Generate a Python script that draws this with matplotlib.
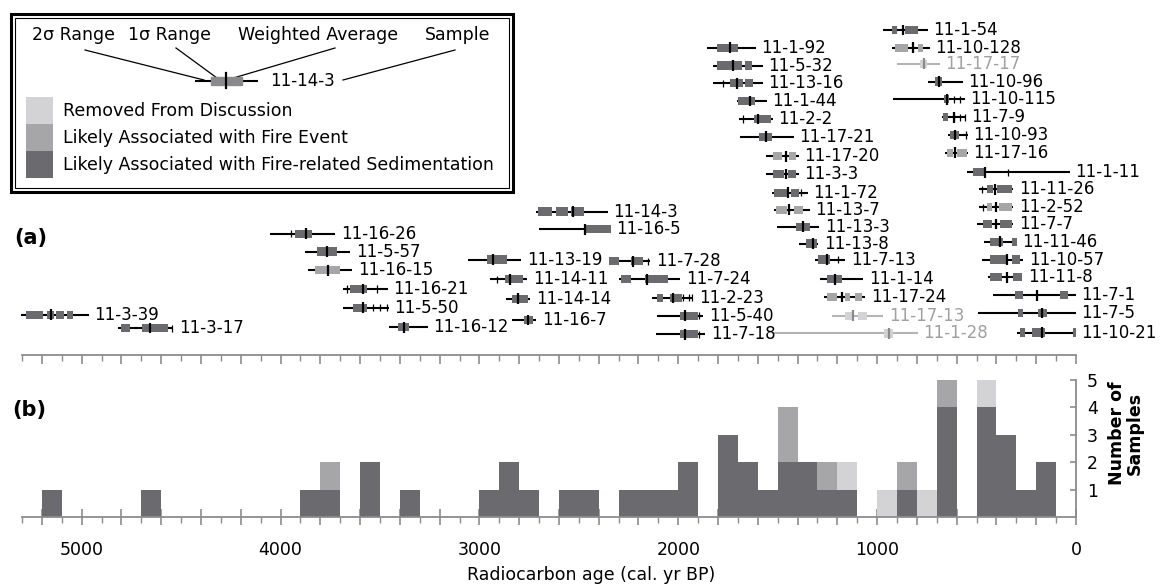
import numpy as np
import matplotlib.pyplot as plt
import matplotlib.patches as mpatches
from matplotlib.ticker import MultipleLocator, FuncFormatter

plt.rcParams['font.family'] = 'DejaVu Sans'

# --- panel (a): calibrated ages of each sample (cal. yr BP) ---
sample_names = [
    '11-3-39', '11-3-17', '11-16-26', '11-5-57', '11-16-15', '11-16-21', '11-5-50', '11-16-12',
    '11-14-3', '11-16-5', '11-13-19', '11-14-11', '11-14-14', '11-16-7',
    '11-7-28', '11-7-24', '11-2-23', '11-5-40', '11-7-18',
    '11-1-92', '11-5-32', '11-13-16', '11-1-44', '11-2-2', '11-17-21', '11-17-20', '11-3-3',
    '11-1-72', '11-13-7', '11-13-3', '11-13-8', '11-7-13', '11-1-14', '11-17-24', '11-17-13', '11-1-28',
    '11-1-54', '11-10-128', '11-17-17', '11-10-96', '11-10-115', '11-7-9', '11-10-93', '11-17-16',
    '11-1-11', '11-11-26', '11-2-52', '11-7-7', '11-11-46', '11-10-57', '11-11-8', '11-7-1', '11-7-5', '11-10-21',
]
sample_rows = [
    16.0, 16.75, 11.45, 12.45, 13.5, 14.55, 15.6, 16.7,
    10.2, 11.2, 12.9, 14.0, 15.1, 16.3,
    13.0, 14.0, 15.05, 16.05, 17.1,
    1.0, 2.0, 3.0, 4.0, 5.0, 6.0, 7.1, 8.1, 9.15, 10.1, 11.05, 12.0, 12.9, 14.0, 15.0, 16.05, 17.05,
    0.0, 1.0, 1.9, 2.9, 3.9, 4.9, 5.9, 6.9,
    8.0, 8.95, 9.95, 10.9, 11.9, 12.9, 13.9, 14.9, 15.9, 17.0,
]
sigma2_old = [
    5305, 4815, 4055, 3875, 3860, 3685, 3685, 3455,
    2715, 2700, 3055, 2945, 2865, 2835,
    2350, 2300, 2130, 2105, 2110,
    1855, 1825, 1825, 1705, 1695, 1690, 1560, 1560, 1530, 1520, 1505, 1395, 1310, 1285, 1265, 1225, 1525,
    970, 925, 900, 745, 920, 675, 645, 660,
    550, 490, 490, 500, 465, 475, 440, 415, 495, 295,
]
sigma2_young = [
    4965, 4540, 3725, 3650, 3640, 3460, 3455, 3260,
    2355, 2340, 2790, 2760, 2745, 2715,
    2140, 1990, 1925, 1875, 1865,
    1610, 1575, 1575, 1555, 1525, 1420, 1395, 1395, 1350, 1340, 1290, 1295, 1160, 1070, 1060, 970, 795,
    745, 735, 685, 570, 560, 555, 545, 545,
    30, 315, 315, 315, 300, 265, 270, 0, 0, 0,
]
sigma1_ranges = [
    [(5280, 5195), (5175, 5140), (5130, 5090), (5075, 5045)], [(4800, 4755), (4695, 4565)],
    [(3925, 3840)], [(3815, 3715)], [(3825, 3700)], [(3650, 3565)], [(3635, 3565)], [(3410, 3355)],
    [(2705, 2635), (2615, 2555), (2540, 2475)], [(2475, 2340)], [(2960, 2860)], [(2870, 2780)],
    [(2835, 2755)], [(2775, 2730)],
    [(2350, 2300), (2240, 2175)], [(2290, 2240), (2165, 2050)], [(2105, 2075), (2040, 1980)],
    [(1990, 1900)], [(1990, 1900)],
    [(1805, 1700)], [(1805, 1680), (1665, 1630)], [(1740, 1675), (1665, 1625)], [(1700, 1615)],
    [(1620, 1535)], [(1595, 1530)], [(1525, 1480), (1445, 1410)], [(1525, 1470), (1450, 1410)],
    [(1520, 1450), (1435, 1395)], [(1510, 1455), (1420, 1375)], [(1410, 1340)], [(1360, 1300)],
    [(1295, 1235)], [(1250, 1175)], [(1250, 1200), (1160, 1135), (1110, 1075)],
    [(1160, 1120), (1095, 1050)], [(965, 920)],
    [(925, 900), (860, 795)], [(910, 845), (795, 770)], [(785, 750)], [(710, 675)], [(665, 640)],
    [(670, 645)], [(635, 590)], [(650, 620), (600, 550)],
    [(520, 455)], [(450, 415), (395, 320)], [(450, 420), (385, 320)], [(470, 420), (380, 320)],
    [(430, 365), (320, 295)], [(430, 345), (320, 280)], [(430, 370), (315, 270)],
    [(305, 265), (80, 40)], [(290, 265), (190, 145)], [(280, 255), (220, 155), (15, 0)],
]
weighted_avg = [
    5155, 4655, 3870, 3765, 3760, 3585, 3585, 3380,
    2530, 2470, 2930, 2845, 2805, 2755,
    2230, 2155, 2025, 1965, 1965,
    1740, 1725, 1705, 1640, 1600, 1560, 1460, 1460, 1450, 1445, 1375, 1320, 1250, 1210, 1175, 1120, 940,
    870, 820, 765, 690, 650, 615, 610, 610,
    460, 405, 400, 400, 380, 345, 345, 195, 170, 170,
]
# short marks on the 2-sigma line (range boundaries)
sigma2_marks = [
    [5170], [4545], [3945], [3805], [], [3665, 3515], [3535, 3500, 3465], [],
    [], [], [], [2910], [], [],
    [2150], [], [1975, 1945, 1930], [1895], [1895],
    [], [1775], [1775], [], [1675], [], [], [],
    [1410, 1385], [], [], [], [1195], [], [], [], [],
    [], [855], [], [], [615, 585], [615, 585, 560], [555], [],
    [340], [475], [470], [], [], [], [], [], [], [],
]
# S = fire-related sedimentation, F = fire event, R = removed from discussion
sample_class = [
    'S', 'S', 'S', 'S', 'F', 'S', 'S', 'S',
    'S', 'S', 'S', 'S', 'S', 'S',
    'S', 'S', 'S', 'S', 'S',
    'S', 'S', 'S', 'S', 'S', 'S', 'F', 'S', 'S', 'F', 'S', 'S', 'S', 'S', 'F', 'R', 'R',
    'S', 'F', 'R', 'S', 'S', 'S', 'S', 'F',
    'S', 'S', 'F', 'S', 'S', 'S', 'S', 'S', 'S', 'S',
]

# --- panel (b): number of samples per 100-yr bin (lower edge, cal. yr BP) ---
bin_lower = [5100, 4600, 3800, 3700, 3500, 3300, 2900, 2800, 2700, 2500, 2400, 2200, 2100, 2000, 1900,
             1700, 1600, 1500, 1400, 1300, 1200, 1100, 900, 800, 700, 600, 400, 300, 200, 100]
count_sed = [1, 1, 1, 1, 2, 1, 1, 2, 1, 1, 1, 1, 1, 1, 2,
             3, 2, 1, 2, 2, 1, 1, 0, 1, 0, 4, 4, 3, 1, 2]
count_fire = [0, 0, 0, 1, 0, 0, 0, 0, 0, 0, 0, 0, 0, 0, 0,
              0, 0, 0, 2, 0, 1, 0, 0, 1, 0, 1, 0, 0, 0, 0]
count_removed = [0, 0, 0, 0, 0, 0, 0, 0, 0, 0, 0, 0, 0, 0, 0,
                 0, 0, 0, 0, 0, 0, 1, 1, 0, 1, 0, 1, 0, 0, 0]

DARK, MID, LIGHT = '#6b6b6f', '#a6a6a9', '#d3d3d5'
AXIS_GRAY = '#8c8c8c'
box_color = {'S': DARK, 'F': MID, 'R': LIGHT}
line_color = {'S': 'black', 'F': 'black', 'R': '#b4b4b4'}
text_color = {'S': 'black', 'F': 'black', 'R': '#a0a0a0'}

W, H = 1160, 584
fig = plt.figure(figsize=(W / 100, H / 100), dpi=100)


def px_axes(x0, y0, x1, y1):
    return fig.add_axes([x0 / W, 1 - y1 / H, (x1 - x0) / W, (y1 - y0) / H])


# overlay for legend box and panel letters (pixel coordinates)
ov = fig.add_axes([0, 0, 1, 1])
ov.set_xlim(0, W)
ov.set_ylim(H, 0)
ov.axis('off')

# ---------------- panel (a) ----------------
ax = px_axes(22, 15, 1076, 355)
ax.patch.set_visible(False)
ax.set_xlim(5300, 0)
ax.set_ylim(18.26, -0.84)
for s in ['top', 'left', 'right']:
    ax.spines[s].set_visible(False)
ax.spines['bottom'].set_color(AXIS_GRAY)
ax.spines['bottom'].set_linewidth(1.3)
ax.xaxis.set_major_locator(MultipleLocator(200))
ax.xaxis.set_minor_locator(MultipleLocator(100))
ax.tick_params(axis='x', which='major', direction='out', length=6.5, width=1.2, color=AXIS_GRAY, labelbottom=False)
ax.tick_params(axis='x', which='minor', direction='out', length=4.3, width=1.0, color=AXIS_GRAY)
ax.set_yticks([])

for i, name in enumerate(sample_names):
    r = sample_rows[i]
    c = sample_class[i]
    ax.plot([sigma2_old[i], sigma2_young[i]], [r, r], color=line_color[c], lw=1.5,
            solid_capstyle='butt', clip_on=False, zorder=2)
    if sigma2_marks[i]:
        ax.vlines(sigma2_marks[i], r - 0.2, r + 0.2, color=line_color[c], lw=0.9, clip_on=False, zorder=2)
    segs = [(min(a, b), abs(a - b)) for a, b in sigma1_ranges[i]]
    ax.broken_barh(segs, (r - 0.23, 0.46), facecolors=box_color[c], clip_on=False, zorder=3)
    tick_c = '#8a8a8a' if c == 'R' else 'black'
    ax.plot([weighted_avg[i]] * 2, [r - 0.3, r + 0.3], color=tick_c, lw=1.6,
            solid_capstyle='butt', clip_on=False, zorder=4)
    ax.annotate(name, (sigma2_young[i], r), xytext=(4, 0), textcoords='offset points',
                va='center', ha='left', fontsize=12, color=text_color[c])

# ---------------- panel (b) ----------------
axb = px_axes(22, 380, 1076, 517)
axb.patch.set_visible(False)
axb.set_xlim(5300, 0)
axb.set_ylim(0, 5)
axb.bar(bin_lower, count_sed, width=100, align='edge', color=DARK, zorder=2)
axb.bar(bin_lower, count_fire, width=100, align='edge', bottom=count_sed, color=MID, zorder=2)
axb.bar(bin_lower, count_removed, width=100, align='edge',
        bottom=np.add(count_sed, count_fire), color=LIGHT, zorder=2)
axb.set_axisbelow(True)
for s in ['top', 'left']:
    axb.spines[s].set_visible(False)
for s in ['bottom', 'right']:
    axb.spines[s].set_color(AXIS_GRAY)
    axb.spines[s].set_linewidth(1.3)
axb.xaxis.set_major_locator(MultipleLocator(200))
axb.xaxis.set_minor_locator(MultipleLocator(100))
axb.xaxis.set_major_formatter(FuncFormatter(lambda v, p: f'{int(round(v))}' if round(v) % 1000 == 0 else ''))
axb.tick_params(axis='x', which='major', direction='inout', length=11, width=1.2, color=AXIS_GRAY,
                labelsize=12.5, pad=12)
axb.tick_params(axis='x', which='minor', direction='out', length=4.5, width=1.0, color=AXIS_GRAY)
axb.yaxis.set_ticks_position('right')
axb.set_yticks([1, 2, 3, 4, 5])
axb.tick_params(axis='y', direction='in', length=4, width=1.2, color=AXIS_GRAY, labelsize=12.5, pad=8)
fig.text(1126 / W, 1 - 433 / H, 'Number of\nSamples', rotation=90, ha='center', va='center',
         fontsize=12.5, fontweight='bold', linespacing=1.0)
fig.text(591 / W, 1 - 575 / H, 'Radiocarbon age (cal. yr BP)', ha='center', va='center', fontsize=12.5)

# panel letters
ov.text(14, 238, '(a)', fontsize=15, fontweight='bold', va='center', ha='left')
ov.text(12, 410, '(b)', fontsize=15, fontweight='bold', va='center', ha='left')

# ---------------- legend box ----------------
ov.add_patch(mpatches.Rectangle((11, 14), 502, 178, fill=False, lw=2.2, ec='black'))
ov.add_patch(mpatches.Rectangle((15, 18), 494, 170, fill=False, lw=0.8, ec='black'))
for txt, x0 in [('2σ Range', 32), ('1σ Range', 128), ('Weighted Average', 238), ('Sample', 425)]:
    ov.text(x0, 35, txt, fontsize=12.5, ha='left', va='center')
for (x0, y0), (x1, y1) in [((85, 50), (204, 80)), ((176, 48), (217, 78)),
                           ((335, 48), (230, 79)), ((455, 50), (343, 80))]:
    ov.plot([x0, x1], [y0, y1], color='black', lw=0.9)
ov.plot([195, 258], [81, 81], color='black', lw=1.5, solid_capstyle='butt')
ov.add_patch(mpatches.Rectangle((211, 77), 31, 8, color='#8a8a8d', zorder=3))
ov.plot([226, 226], [73, 88], color='black', lw=1.6, zorder=4)
ov.text(270, 81, '11-14-3', fontsize=12, ha='left', va='center')
for y0, col, txt in [(97, LIGHT, 'Removed From Discussion'),
                     (124, MID, 'Likely Associated with Fire Event'),
                     (151, DARK, 'Likely Associated with Fire-related Sedimentation')]:
    ov.add_patch(mpatches.Rectangle((26, y0), 27, 27, color=col, lw=0))
    ov.text(63, y0 + 14, txt, fontsize=12.5, ha='left', va='center')

fig.savefig('out.png', dpi=100)
